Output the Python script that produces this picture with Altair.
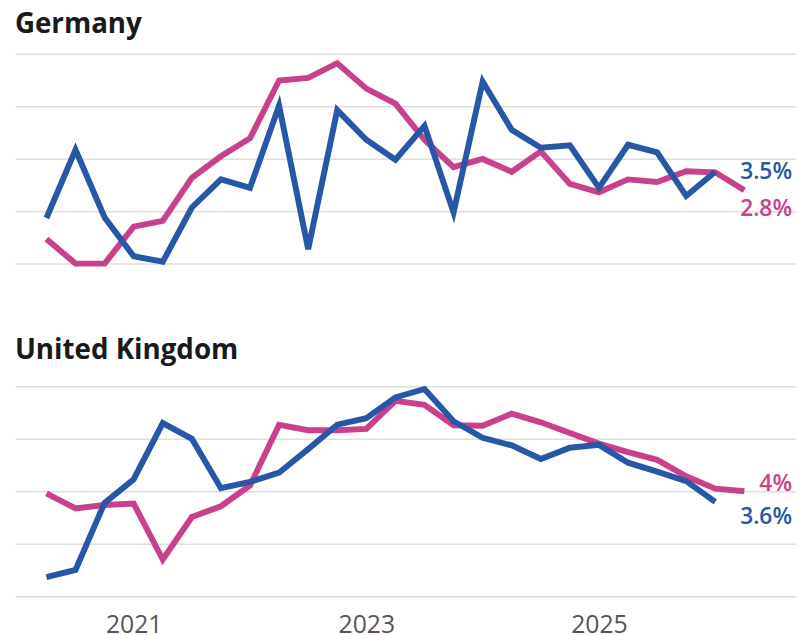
import altair as alt
import pandas as pd

# Quarterly periods (x axis)
quarters = [
    "2020 Q2", "2020 Q3", "2020 Q4",
    "2021 Q1", "2021 Q2", "2021 Q3", "2021 Q4",
    "2022 Q1", "2022 Q2", "2022 Q3", "2022 Q4",
    "2023 Q1", "2023 Q2", "2023 Q3", "2023 Q4",
    "2024 Q1", "2024 Q2", "2024 Q3", "2024 Q4",
    "2025 Q1", "2025 Q2", "2025 Q3", "2025 Q4",
    "2026 Q1", "2026 Q2",
]

# Germany
germany_pink = [0.94, 0.0, 0.0, 1.41, 1.63, 3.27, 4.09, 4.78, 6.98, 7.08, 7.64, 6.67, 6.10,
                4.72, 3.68, 3.99, 3.50, 4.28, 3.04, 2.72, 3.21, 3.11, 3.52, 3.48, 2.8]
germany_blue = [1.74, 4.34, 1.76, 0.28, 0.07, 2.14, 3.21, 2.89, 6.02, 0.55, 5.85, 4.72, 3.96,
                5.25, 1.95, 6.94, 5.10, 4.42, 4.51, 2.89, 4.53, 4.24, 2.58, 3.5]

# United Kingdom
uk_pink = [3.92, 3.35, 3.48, 3.53, 1.40, 3.02, 3.43, 4.22, 6.53, 6.33, 6.33, 6.38, 7.45,
           7.30, 6.52, 6.50, 6.96, 6.63, 6.22, 5.82, 5.49, 5.20, 4.57, 4.10, 4.0]
uk_blue = [0.73, 1.00, 3.56, 4.46, 6.60, 6.00, 4.12, 4.36, 4.71, 5.61, 6.54, 6.79, 7.58,
           7.90, 6.67, 6.04, 5.75, 5.23, 5.66, 5.77, 5.09, 4.75, 4.39, 3.6]

# End labels
germany_pink_label, germany_blue_label = "2.8%", "3.5%"
uk_pink_label, uk_blue_label = "4%", "3.6%"

PINK = "#C9408C"
BLUE = "#2757A6"
FONT = "Open Sans"
W, H = 789, 212


def qpos(q):
    y, n = q.split(" Q")
    return int(y) + (int(n) - 1) / 4


def frame(vals):
    return pd.DataFrame({"x": [qpos(q) for q in quarters[: len(vals)]], "v": vals})


def panel(title, pink, blue, pink_label, blue_label, pink_dy, blue_dy, show_axis):
    xscale = alt.Scale(domain=[2019.979, 2026.694], nice=False, zero=False)
    yscale = alt.Scale(domain=[0, 8], nice=False, zero=True)
    if show_axis:
        xaxis = alt.Axis(values=[2021, 2023, 2025], format="d", grid=False, domain=False,
                         ticks=False, labelFontSize=25, labelColor="#555555", labelFont=FONT,
                         labelPadding=17, title=None)
    else:
        xaxis = None
    yaxis = alt.Axis(values=[0, 2, 4, 6, 8], labels=False, ticks=False, domain=False,
                     grid=True, gridColor="#dedede", gridWidth=1.5, title=None)

    pink_line = alt.Chart(frame(pink)).mark_line(color=PINK, strokeWidth=6).encode(
        x=alt.X("x:Q", scale=xscale, axis=xaxis),
        y=alt.Y("v:Q", scale=yscale, axis=yaxis),
    )
    blue_line = alt.Chart(frame(blue)).mark_line(color=BLUE, strokeWidth=6).encode(
        x=alt.X("x:Q", scale=xscale),
        y=alt.Y("v:Q", scale=yscale),
    )
    pink_text = alt.Chart(pd.DataFrame({"v": [pink[-1]], "t": [pink_label]})).mark_text(
        align="right", baseline="middle", fontSize=23, font=FONT, fontWeight=600,
        color=PINK, dy=pink_dy,
    ).encode(x=alt.value(W - 4), y=alt.Y("v:Q", scale=yscale), text="t:N")
    blue_text = alt.Chart(pd.DataFrame({"v": [blue[-1]], "t": [blue_label]})).mark_text(
        align="right", baseline="middle", fontSize=23, font=FONT, fontWeight=600,
        color=BLUE, dy=blue_dy,
    ).encode(x=alt.value(W - 4), y=alt.Y("v:Q", scale=yscale), text="t:N")

    return alt.layer(pink_line, blue_line, pink_text, blue_text).properties(
        width=W, height=H,
        title=alt.TitleParams(text=title, anchor="start", fontSize=28, font=FONT,
                              fontWeight="bold", color="#1a1a1a", offset=12),
    )


de = panel("Germany", germany_pink, germany_blue, germany_pink_label, germany_blue_label,
           19, 0, False)
uk = panel("United Kingdom", uk_pink, uk_blue, uk_pink_label, uk_blue_label, -7, 15, True)

chart = alt.vconcat(de, uk, spacing=62).properties(
    padding={"left": 7, "top": 0, "right": 0, "bottom": 0},
    background="white",
).configure_view(stroke=None)

chart.save("out.html", embed_options={"renderer": "svg", "actions": False})
